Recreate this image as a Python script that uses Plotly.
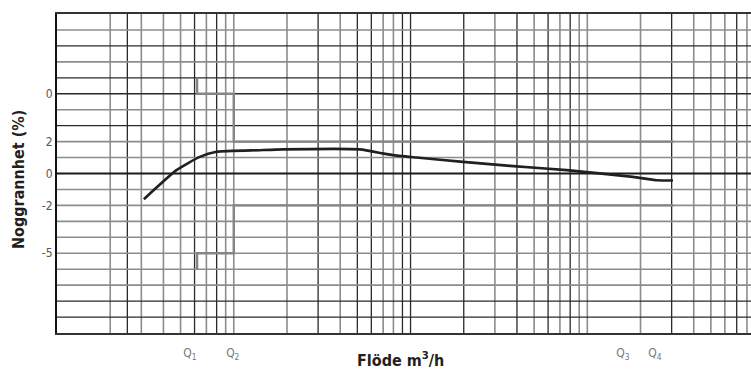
import plotly.graph_objects as go

# ---- data ----
flow = [3.1, 4.74, 6.42, 7.98, 14.0, 18.9, 51.6, 69.7, 79.4, 108, 198, 365, 764, 1811, 2467, 3050]
accuracy = [-1.61, 0.21, 1.04, 1.36, 1.46, 1.51, 1.51, 1.26, 1.15, 1.00, 0.73, 0.48, 0.21, -0.21, -0.42, -0.44]

upper_x = [6.2, 6.2, 10, 10, 3077]
upper_y = [6, 5, 5, 2, 2]
lower_x = [6.2, 6.2, 10, 10, 3077]
lower_y = [-6, -5, -5, -2, -2]

q_vals = [5.64, 9.87, 1590, 2414]
q_text = ["Q<sub>1</sub>", "Q<sub>2</sub>", "Q<sub>3</sub>", "Q<sub>4</sub>"]

y_tick_vals = [5, 2, 0, -2, -5]
y_tick_text = ["0", "2", "0", "-2", "-5"]

v_grid = [2, 2.5, 3, 4, 5, 6, 7, 8, 9, 10,
          20, 30, 40, 50, 60, 70, 80, 90, 100,
          200, 300, 400, 500, 600, 700, 800, 900, 1000,
          2000, 3000, 4000, 5000, 6000, 7000, 8000]
v_dark = [0, 1, 0, 0, 0, 1, 0, 1, 0, 0,
          0, 1, 0, 1, 1, 0, 0, 1, 1,
          1, 0, 1, 0, 1, 0, 1, 0, 0,
          0, 1, 0, 0, 0, 1, 0]
h_grid = [9, 8, 7, 6, 5, 4, 3, 2, 1, -1, -2, -3, -4, -5, -6, -7, -8, -9]
h_dark = [0, 1, 0, 1, 1, 0, 1, 0, 0, 0, 0, 0, 0, 0, 0, 0, 1, 1]

DARK = "#2a2a2a"
GRAY = "#8c8c8c"
FONT = "Liberation Sans Narrow, DejaVu Sans Condensed, Arial Narrow, sans-serif"

fig = go.Figure()

shapes = []
for v, d in zip(v_grid, v_dark):
    shapes.append(dict(type="line", xref="x", yref="paper", x0=v, x1=v, y0=0, y1=1,
                       line=dict(color=DARK if d else GRAY, width=1.3 if d else 1.6), layer="below"))
for h, d in zip(h_grid, h_dark):
    shapes.append(dict(type="line", xref="paper", yref="y", x0=0, x1=1, y0=h, y1=h,
                       line=dict(color=DARK if d else GRAY, width=1.3 if d else 1.6), layer="below"))
# zero line
shapes.append(dict(type="line", xref="paper", yref="y", x0=0, x1=1, y0=0, y1=0,
                   line=dict(color="#1a1a1a", width=2), layer="below"))

fig.add_trace(go.Scatter(x=upper_x, y=upper_y, mode="lines",
                         line=dict(color="#858585", width=2.4), hoverinfo="skip", showlegend=False))
fig.add_trace(go.Scatter(x=lower_x, y=lower_y, mode="lines",
                         line=dict(color="#858585", width=2.4), hoverinfo="skip", showlegend=False))
fig.add_trace(go.Scatter(x=flow, y=accuracy, mode="lines",
                         line=dict(color="#231f20", width=2.6, shape="spline", smoothing=0.5),
                         showlegend=False))

fig.update_layout(
    width=751, height=370,
    margin=dict(l=57, r=0, t=14, b=37),
    paper_bgcolor="white", plot_bgcolor="white",
    shapes=shapes,
    xaxis=dict(type="log", range=[0, 3.926], showgrid=False, zeroline=False,
               showline=True, linecolor="#333333", linewidth=2, mirror=True,
               tickvals=q_vals, ticktext=q_text, ticks="outside", ticklen=8,
               tickcolor="rgba(0,0,0,0)",
               tickfont=dict(family=FONT, size=12, color="#777777")),
    yaxis=dict(range=[-10, 10], showgrid=False, zeroline=False,
               showline=True, linecolor="#111111", linewidth=2,
               tickvals=y_tick_vals, ticktext=y_tick_text, ticks="",
               tickfont=dict(family=FONT, size=12, color="#555555")),
    annotations=[
        dict(text="<b>Noggrannhet (%)</b>", xref="paper", yref="paper",
             x=-57/694 + 18/694, y=(370 - 37 - 180) / 319, xanchor="center", yanchor="middle",
             textangle=-90, showarrow=False,
             font=dict(family=FONT, size=16, color="#231f20")),
        dict(text="<b>Flöde m<sup>3</sup>/h</b>", xref="paper", yref="paper",
             x=(400 - 57) / 694, y=(370 - 37 - 359) / 319, xanchor="center", yanchor="middle",
             showarrow=False,
             font=dict(family=FONT, size=16, color="#231f20")),
    ],
)

fig.write_html("out.html", config={"displayModeBar": False},
               post_script="document.body.style.margin='0';document.body.style.overflow='hidden';")
